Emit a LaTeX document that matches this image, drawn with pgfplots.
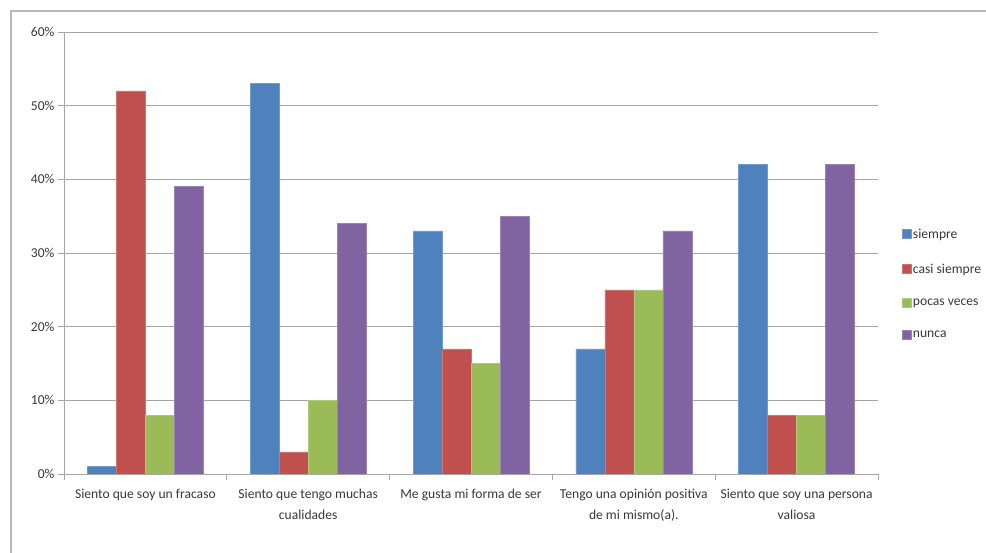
\documentclass[border=0pt]{standalone}
\usepackage{pgfplots}
\pgfplotsset{compat=1.18}
\usepackage{fontspec}
\setmainfont{Carlito}
\definecolor{cblue}{HTML}{4F81BD}
\definecolor{cred}{HTML}{C0504D}
\definecolor{cgreen}{HTML}{9BBB59}
\definecolor{cpurple}{HTML}{8064A2}
\definecolor{txt}{HTML}{383838}
\definecolor{gridc}{HTML}{A6A6A6}
\begin{document}
\begin{tikzpicture}[x=1pt,y=1pt]
\path[use as bounding box] (0,0) rectangle (986,553);
\draw[color=gridc!80, line width=1.5pt] (11,0) -- (11,542) -- (986,542);
\begin{axis}[
  at={(64pt,79pt)}, anchor=south west,
  width=814pt, height=442pt, scale only axis,
  xmin=0, xmax=5, ymin=0, ymax=60,
  ybar=0pt, bar width=29pt,
  axis x line*=bottom, axis y line*=left,
  axis line style={gridc, line width=0.8pt, -},
  xtick={0.5,1.5,2.5,3.5,4.5},
  xticklabels={Siento que soy un fracaso, {Siento que tengo muchas\\cualidades}, Me gusta mi forma de ser, {Tengo una opinión positiva\\de mi mismo(a).}, {Siento que soy una persona\\valiosa}},
  x tick label style={align=center, font=\fontsize{13.6}{21}\selectfont, text=txt, yshift=-6pt},
  major x tick style={draw=none},
  minor xtick={0,1,2,3,4,5},
  minor x tick style={gridc, line width=0.8pt},
  minor tick length=6pt,
  tick align=outside,
  ytick={0,10,20,30,40,50,60},
  yticklabel={\pgfmathprintnumber{\tick}\%},
  y tick label style={font=\fontsize{13.6}{15}\selectfont, text=txt},
  major y tick style={gridc, line width=0.8pt},
  major tick length=6pt,
  /pgf/number format/assume math mode=true,
  ymajorgrids, grid style={gridc, line width=0.8pt},
  legend style={at={(1.025,0.43)}, anchor=west, draw=none, fill=none,
    font=\fontsize{13.6}{15}\selectfont, text=txt, row sep=20pt,
    /tikz/every even column/.append style={column sep=2pt}},
  legend cell align=left,
  legend image code/.code={\fill[#1] (0pt,-4pt) rectangle (9pt,5pt);},
]
\addplot[fill=cblue, draw=cblue!80!white] coordinates {(0.5,1) (1.5,53) (2.5,33) (3.5,17) (4.5,42)};
\addplot[fill=cred, draw=cred!80!white] coordinates {(0.5,52) (1.5,3) (2.5,17) (3.5,25) (4.5,8)};
\addplot[fill=cgreen, draw=cgreen!80!white] coordinates {(0.5,8) (1.5,10) (2.5,15) (3.5,25) (4.5,8)};
\addplot[fill=cpurple, draw=cpurple!80!white] coordinates {(0.5,39) (1.5,34) (2.5,35) (3.5,33) (4.5,42)};
\legend{siempre, casi siempre, pocas veces, nunca}
\end{axis}
\end{tikzpicture}
\end{document}
